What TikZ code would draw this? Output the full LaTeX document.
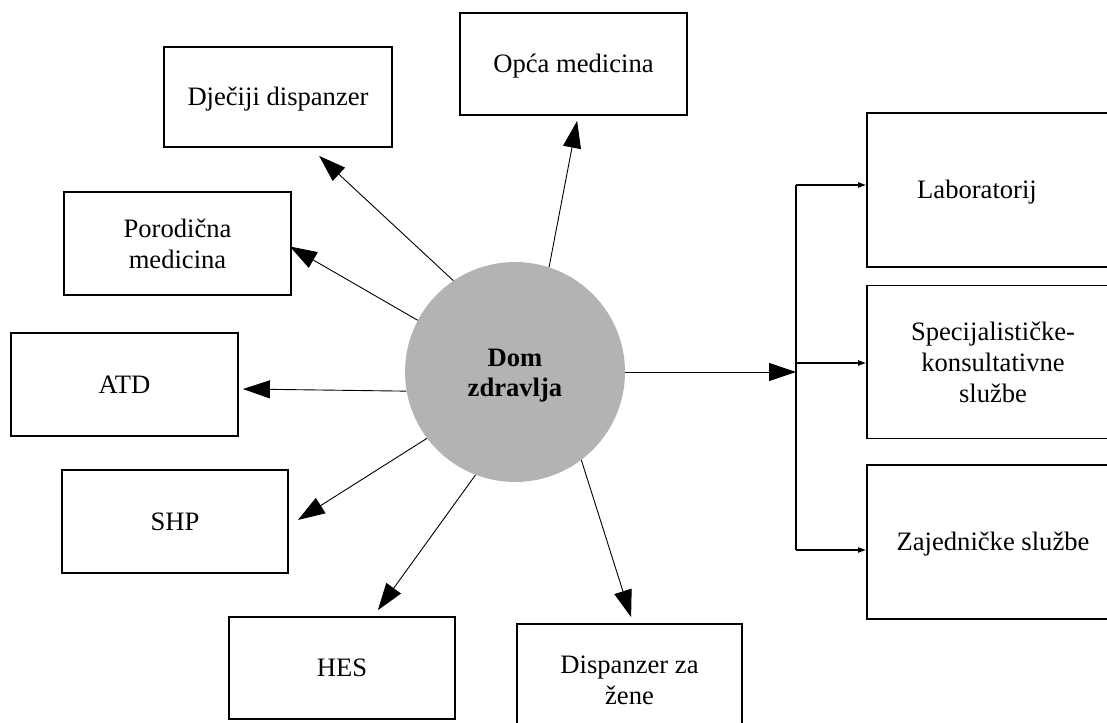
\documentclass[tikz,border=0pt]{standalone}
\usepackage{fontspec}
\setmainfont{Liberation Serif}
\usetikzlibrary{arrows.meta,calc}

\definecolor{hubgray}{HTML}{B3B3B3}

\tikzset{
  unitbox/.style={draw=black, line width=1.8pt, rectangle, inner sep=0pt,
    align=center, font=\fontsize{26.6}{31}\selectfont},
  oneline/.style={text height=23.7pt, text depth=5.75pt},
  hub/.style={circle, fill=hubgray, minimum size=220pt, inner sep=0pt},
  hubtext/.style={align=center, inner sep=0pt, yshift=-4pt,
    font=\fontsize{26.6}{30}\selectfont\bfseries},
  bigarrow/.style={line width=0.9pt, -{Triangle[length=27pt,width=18pt]}},
  bracketline/.style={line width=1.8pt},
  smallarrow/.style={line width=1.8pt, -{Triangle[length=8pt,width=5pt]}},
}

\begin{document}
\begin{tikzpicture}[x=1pt, y=-1pt]
  \clip (0,0) rectangle (1107,722);

  % central institution
  \node[hub, label={[hubtext]center:{Dom\\zdravlja}}] (dz) at (515,372) {};

  % units around the centre
  \node[unitbox, oneline, minimum width=227pt, minimum height=102pt] (op)  at (573.5,64)   {Opća medicina};
  \node[unitbox, oneline, minimum width=228pt, minimum height=100pt] (dj)  at (278,97)     {Dječiji dispanzer};
  \node[unitbox, minimum width=227pt, minimum height=103pt] (po)  at (177.5,243.5) {Porodična\\medicina};
  \node[unitbox, oneline, minimum width=227pt, minimum height=103pt] (atd) at (124.5,384.5) {ATD};
  \node[unitbox, oneline, minimum width=226pt, minimum height=103pt] (shp) at (175,521.5)  {SHP};
  \node[unitbox, oneline, minimum width=226pt, minimum height=102pt] (hes) at (342,668)    {HES};
  \node[unitbox, minimum width=225pt, minimum height=112pt] (dzz) at (629.5,680)  {Dispanzer za\\žene};

  % services on the right
  \node[unitbox, oneline, minimum width=252pt, minimum height=154pt] (lab)  at (993,190)   {Laboratorij\hspace*{32pt}};
  \node[unitbox, minimum width=252pt, minimum height=153pt] (spec) at (993,362) {Specijalističke-\\konsultativne\\službe};
  \node[unitbox, oneline, minimum width=252pt, minimum height=154pt] (zaj)  at (993,542)   {Zajedničke službe};

  % arrows from the centre
  \draw[bigarrow] (dz.72.4)  -- ($(op.south west)+(118,5)$);
  \draw[bigarrow] (dz.124.3) -- ($(dj.south west)+(156,8)$);
  \draw[bigarrow] (dz.152.1) -- ($(po.east)+(-2,3)$);
  \draw[bigarrow] (dz.190.8) -- ($(atd.east)+(4,4.5)$);
  \draw[bigarrow] (dz.217.7) -- ($(shp.east)+(9,-1.5)$);
  \draw[bigarrow] (dz.249.8) -- ($(hes.north east)+(-78,-6)$);
  \draw[bigarrow] (dz.307.5) -- ($(dzz.north west)+(115,-6)$);

  % distribution bracket
  \coordinate (bt) at (796,185);
  \coordinate (bm) at (796,363);
  \coordinate (bb) at (796,550);
  \draw[bigarrow] (dz.east) -- (dz.east -| bt);
  \draw[bracketline] (bt) -- (bb);
  \draw[smallarrow] (bt) -- (bt -| lab.west);
  \draw[smallarrow] (bm) -- (bm -| spec.west);
  \draw[smallarrow] (bb) -- (bb -| zaj.west);
\end{tikzpicture}
\end{document}
